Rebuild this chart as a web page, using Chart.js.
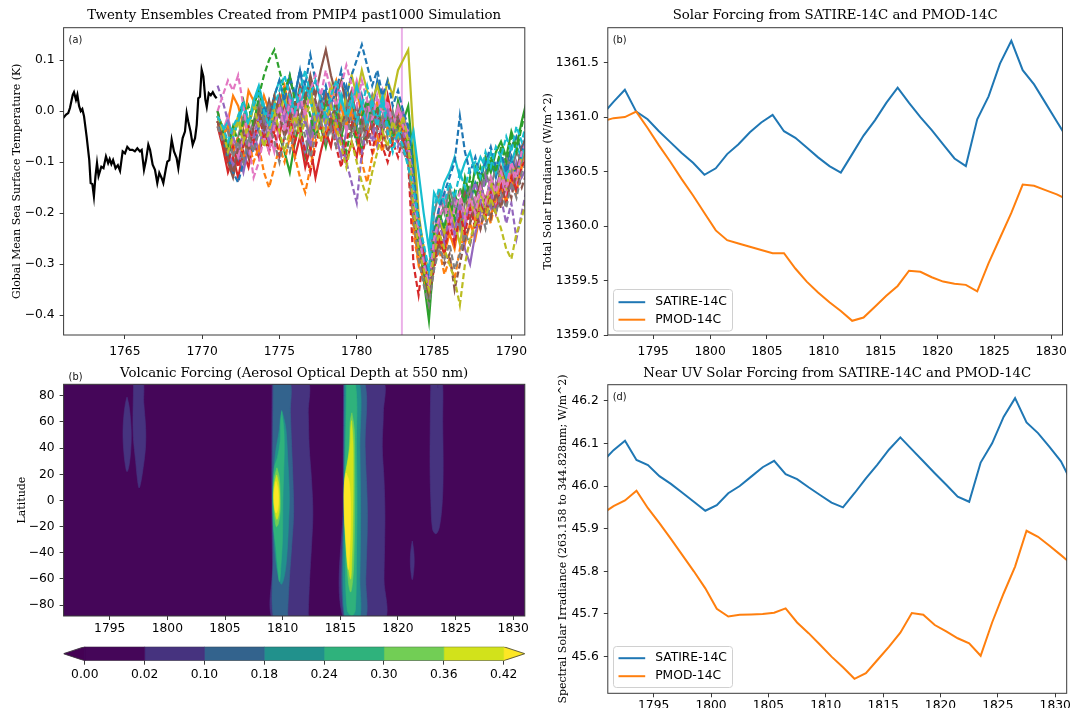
<!DOCTYPE html>
<html>
<head>
<meta charset="utf-8">
<script src="https://cdn.jsdelivr.net/npm/chart.js@4.4.1/dist/chart.umd.min.js"></script>
<style>
html,body{margin:0;padding:0;background:#fff;}
#fig{position:relative;width:1072px;height:708px;overflow:hidden;background:#fff;}
.pane{position:absolute;}
.pane canvas{display:block;}
</style>
</head>
<body>
<div id="fig">
  <div class="pane" style="left:0px;top:0px;width:536px;height:362px;"><canvas id="ca"></canvas></div>
  <div class="pane" style="left:536px;top:0px;width:536px;height:362px;"><canvas id="cb"></canvas></div>
  <div class="pane" style="left:0px;top:355px;width:536px;height:287px;"><canvas id="cc"></canvas></div>
  <div class="pane" style="left:0px;top:632px;width:536px;height:76px;"><canvas id="ccb"></canvas></div>
  <div class="pane" style="left:536px;top:355px;width:536px;height:353px;"><canvas id="cd"></canvas></div>
</div>
<script>
// ---------------- DATA ----------------
// (a) observed/reconstructed global mean SST (black)
const blackYears = [1761.00,1761.20,1761.34,1761.45,1761.63,1761.71,1761.84,1761.93,1762.04,1762.15,1762.25,1762.36,1762.53,1762.70,1762.79,1762.90,1763.00,1763.10,1763.20,1763.30,1763.48,1763.62,1763.78,1763.92,1764.02,1764.13,1764.24,1764.40,1764.55,1764.69,1764.86,1765.01,1765.16,1765.33,1765.50,1765.65,1765.81,1765.98,1766.09,1766.24,1766.37,1766.52,1766.63,1766.80,1766.95,1767.10,1767.23,1767.38,1767.49,1767.66,1767.75,1767.88,1768.03,1768.18,1768.35,1768.46,1768.61,1768.74,1768.89,1769.00,1769.10,1769.25,1769.39,1769.54,1769.65,1769.75,1769.86,1769.97,1770.08,1770.21,1770.30,1770.43,1770.56,1770.69,1770.83,1770.94];
const blackSST = [-0.014,-0.007,-0.004,0.006,0.032,0.037,0.022,0.032,0.010,0.000,0.004,-0.010,-0.050,-0.096,-0.141,-0.143,-0.167,-0.128,-0.102,-0.127,-0.109,-0.112,-0.089,-0.102,-0.094,-0.104,-0.096,-0.112,-0.106,-0.117,-0.079,-0.083,-0.070,-0.076,-0.076,-0.079,-0.073,-0.079,-0.076,-0.115,-0.096,-0.066,-0.076,-0.105,-0.115,-0.141,-0.121,-0.131,-0.141,-0.112,-0.099,-0.096,-0.056,-0.079,-0.092,-0.112,-0.079,-0.053,-0.040,-0.004,-0.020,-0.040,-0.066,-0.053,-0.027,0.025,0.028,0.081,0.068,0.022,0.008,0.035,0.031,0.037,0.029,0.025];
// (a) ensemble time axis (every 4 months)
const ensYears = [1771,1771.33,1771.67,1772,1772.33,1772.67,1773,1773.33,1773.67,1774,1774.33,1774.67,1775,1775.33,1775.67,1776,1776.33,1776.67,1777,1777.33,1777.67,1778,1778.33,1778.67,1779,1779.33,1779.67,1780,1780.33,1780.67,1781,1781.33,1781.67,1782,1782.33,1782.67,1783,1783.33,1783.67,1784,1784.33,1784.67,1785,1785.33,1785.67,1786,1786.33,1786.67,1787,1787.33,1787.67,1788,1788.33,1788.67,1789,1789.33,1789.67,1790,1790.33,1790.67,1791];
// solid members
const e00 = [-.02,-.05,-.08,-.07,-.10,-.06,-.04,-.07,-.03,-.01,.02,-.03,.00,.04,.06,.03,.08,.02,.05,-.02,.01,.04,-.01,-.04,.02,.05,.01,-.03,.03,-.02,.00,.06,.02,-.03,-.06,-.02,-.05,-.03,-.15,-.25,-.30,-.36,-.25,-.20,-.23,-.18,-.22,-.19,-.15,-.18,-.14,-.16,-.12,-.10,-.13,-.09,-.11,-.07,-.05,-.08,-.04];
const e01 = [-.01,-.04,-.02,.03,.01,-.03,.04,.02,-.02,.03,.00,-.04,.02,.05,.00,-.06,-.02,.01,-.08,-.03,.01,-.02,.03,.06,.01,-.03,.00,.04,-.01,-.05,-.02,.02,-.03,.01,-.04,.00,-.06,-.08,-.22,-.30,-.27,-.38,-.30,-.25,-.28,-.24,-.27,-.21,-.26,-.22,-.25,-.20,-.17,-.21,-.15,-.18,-.13,-.10,-.12,-.08,-.06];
const e02 = [.00,-.06,-.09,-.05,-.02,.02,-.03,.01,.04,.00,-.04,.01,-.05,-.08,-.12,-.06,-.02,-.09,-.04,.00,-.03,-.07,-.02,.02,-.05,-.01,.03,-.04,-.08,-.02,.01,-.03,.03,.00,-.05,.02,-.02,.01,-.10,-.24,-.33,-.41,-.28,-.22,-.18,-.22,-.16,-.20,-.13,-.17,-.11,-.14,-.09,-.12,-.08,-.06,-.09,-.04,-.07,-.02,.02];
const e03 = [-.03,-.07,-.12,-.09,-.13,-.08,-.11,-.06,-.09,-.04,-.07,-.02,-.05,.01,-.03,-.09,-.05,-.11,-.07,-.13,-.08,-.04,-.07,-.01,-.05,-.10,-.06,-.09,-.03,.02,-.04,.00,-.05,.03,-.02,-.06,-.03,-.07,-.20,-.27,-.31,-.35,-.29,-.24,-.27,-.21,-.25,-.19,-.23,-.17,-.22,-.18,-.21,-.16,-.19,-.14,-.18,-.12,-.15,-.10,-.07];
const e04 = [-.01,-.03,-.07,-.11,-.08,-.12,-.07,-.04,-.08,-.02,-.06,-.01,.03,-.02,-.05,.00,-.04,-.08,-.03,.02,-.02,.03,-.01,-.05,-.09,-.04,.00,-.06,-.02,.02,-.03,-.07,-.02,.01,-.04,-.02,.00,-.05,-.17,-.25,-.29,-.34,-.27,-.20,-.24,-.19,-.17,-.22,-.27,-.30,-.24,-.20,-.17,-.19,-.14,-.16,-.12,-.15,-.10,-.13,-.11];
const e05 = [-.02,-.06,-.10,-.13,-.08,-.05,-.09,-.03,.01,-.03,.02,-.02,.03,-.01,.04,.00,.05,.02,.07,.03,.08,.12,.07,.03,.06,.01,.04,-.02,.02,-.03,.01,-.02,.03,-.01,-.04,-.01,-.05,-.09,-.18,-.26,-.30,-.37,-.26,-.21,-.25,-.18,-.23,-.20,-.16,-.21,-.17,-.14,-.18,-.13,-.16,-.11,-.14,-.09,-.12,-.07,-.05];
const e06 = [.00,-.04,-.01,-.06,-.09,-.05,-.02,-.07,-.03,.01,-.04,-.08,-.03,.00,-.05,-.02,.03,-.01,-.06,-.02,.02,-.03,.01,.05,.01,-.04,.02,.06,.02,-.02,.03,-.01,.04,.00,-.03,.01,-.02,-.04,-.16,-.23,-.28,-.33,-.24,-.19,-.16,-.21,-.25,-.18,-.22,-.20,-.17,-.23,-.19,-.15,-.18,-.13,-.16,-.11,-.14,-.09,-.06];
const e07 = [-.02,-.05,-.03,-.08,-.05,-.01,-.05,-.02,.02,-.02,.01,-.03,.00,-.04,.01,-.03,.02,-.02,-.05,-.01,.03,-.01,-.04,.00,-.03,.02,-.02,.01,-.04,.00,.03,-.02,.01,-.03,.00,-.04,-.02,-.06,-.14,-.22,-.27,-.32,-.20,-.16,-.20,-.15,-.19,-.23,-.18,-.15,-.19,-.16,-.12,-.15,-.11,-.13,-.09,-.12,-.08,-.10,-.06];
const e08 = [-.01,-.03,-.07,-.04,-.01,-.05,-.02,.02,-.02,.01,-.03,.02,-.01,.03,-.02,.01,-.03,.00,.04,.00,-.03,.01,.05,.01,-.02,.03,.07,.03,.08,.04,.02,.05,.01,.06,.03,.08,.10,.12,-.05,-.20,-.27,-.34,-.26,-.21,-.24,-.19,-.22,-.26,-.20,-.17,-.21,-.16,-.19,-.14,-.17,-.12,-.15,-.10,-.13,-.09,-.07];
const e09 = [-.01,-.04,-.02,-.05,-.02,.01,-.03,.02,.05,.01,-.02,.03,.06,.02,-.01,.04,.01,.05,.02,-.02,.01,-.03,.02,-.01,.03,-.02,.01,.05,.01,-.03,.02,-.01,.03,-.02,-.05,-.02,-.06,-.08,-.04,-.12,-.20,-.27,-.16,-.18,-.14,-.12,-.09,-.13,-.10,-.08,-.12,-.09,-.11,-.08,-.12,-.09,-.13,-.10,-.07,-.09,-.05];
// dashed members
const e10 = [-.01,-.05,-.09,-.12,-.14,-.10,-.06,-.08,-.03,.01,-.02,.03,.06,.02,.07,.03,.08,.05,.11,.06,.02,.05,.01,.04,.08,.03,.07,.10,.13,.09,.05,.08,.03,.06,.01,.04,.00,-.03,-.12,-.21,-.27,-.33,-.23,-.19,-.16,-.13,-.10,-.01,-.08,-.12,-.09,-.13,-.10,-.07,-.11,-.08,-.12,-.09,-.13,-.08,-.05];
const e11 = [-.02,-.05,-.03,-.08,-.05,-.09,-.06,-.10,-.07,-.12,-.15,-.11,-.07,-.10,-.05,-.09,-.13,-.16,-.11,-.06,-.02,-.05,-.01,-.04,.01,-.03,.00,-.05,-.10,-.14,-.09,-.05,-.08,-.03,-.06,-.02,-.04,-.08,-.24,-.30,-.33,-.36,-.30,-.27,-.32,-.29,-.33,-.27,-.24,-.26,-.21,-.23,-.19,-.22,-.17,-.15,-.18,-.13,-.16,-.11,-.08];
const e12 = [.00,-.04,-.07,-.03,-.06,-.02,.01,-.03,.03,.07,.10,.12,.08,.04,.07,.02,-.02,.03,-.01,-.05,-.02,.02,-.03,.00,-.04,-.08,-.03,-.06,-.01,.02,-.02,.01,-.04,-.01,-.05,-.03,-.07,-.05,-.18,-.26,-.31,-.37,-.24,-.20,-.23,-.17,-.21,-.15,-.18,-.13,-.16,-.11,-.14,-.09,-.12,-.07,-.10,-.05,-.08,-.03,.01];
const e13 = [-.02,-.06,-.10,-.07,-.11,-.07,-.03,-.06,-.01,-.05,-.08,-.04,-.09,-.05,-.01,-.06,-.03,-.08,-.12,-.07,-.03,-.06,-.02,-.07,-.11,-.06,-.02,-.05,-.09,-.04,-.08,-.03,-.07,-.10,-.06,-.09,-.05,-.10,-.30,-.36,-.28,-.36,-.31,-.25,-.28,-.22,-.26,-.20,-.24,-.19,-.23,-.18,-.21,-.16,-.20,-.15,-.18,-.13,-.16,-.11,-.09];
const e14 = [.05,.02,-.02,-.05,-.08,-.04,-.08,-.05,-.01,-.04,.00,-.03,.02,-.02,.03,-.01,.02,-.03,-.07,-.02,.01,-.03,.02,-.02,-.06,-.10,-.14,-.18,-.08,-.03,-.06,-.01,-.04,.00,-.03,-.07,-.04,-.09,-.18,-.24,-.29,-.35,-.27,-.22,-.26,-.20,-.24,-.18,-.22,-.17,-.14,-.18,-.13,-.16,-.20,-.17,-.22,-.18,-.25,-.20,-.15];
const e15 = [-.02,-.05,-.09,-.12,-.07,-.04,-.08,-.03,.00,-.04,-.01,.03,-.01,-.05,-.02,.02,-.02,.03,.06,.02,-.01,.03,-.02,.01,-.03,.00,-.04,.01,-.02,-.06,-.03,.00,-.04,-.08,-.05,-.02,-.06,-.09,-.20,-.28,-.31,-.36,-.29,-.26,-.30,-.28,-.35,-.30,-.25,-.22,-.19,-.23,-.18,-.21,-.16,-.19,-.14,-.17,-.12,-.15,-.12];
const e16 = [.00,.03,.06,.04,.07,.01,-.06,-.13,-.10,-.05,-.08,-.03,.01,-.04,.02,-.02,.03,-.01,.04,.07,.03,.08,.04,.01,.05,.09,.05,.01,.06,.02,-.02,.03,-.01,.02,-.03,.00,-.03,-.06,-.16,-.24,-.30,-.34,-.25,-.21,-.18,-.23,-.19,-.16,-.21,-.17,-.20,-.15,-.18,-.13,-.16,-.12,-.15,-.10,-.13,-.08,-.06];
const e17 = [-.03,-.06,-.04,-.09,-.06,-.10,-.05,-.08,-.04,-.07,-.03,-.06,-.10,-.05,-.08,-.04,-.01,-.05,-.09,-.05,-.02,-.06,-.03,-.07,-.04,-.01,-.05,-.02,-.06,-.03,.00,-.04,-.01,-.05,-.02,-.05,-.08,-.10,-.21,-.29,-.34,-.38,-.31,-.27,-.29,-.26,-.31,-.28,-.24,-.26,-.22,-.19,-.23,-.18,-.20,-.16,-.19,-.14,-.17,-.12,-.10];
const e18 = [-.01,-.04,-.08,-.05,-.02,-.06,-.03,.01,-.03,-.07,-.04,.00,-.04,-.08,-.04,-.01,-.05,-.02,.02,-.02,-.06,-.02,.01,-.03,-.07,-.11,-.06,-.10,-.14,-.17,-.12,-.08,-.04,-.07,-.02,-.05,-.01,-.06,-.19,-.27,-.31,-.35,-.28,-.24,-.27,-.30,-.33,-.38,-.30,-.25,-.22,-.19,-.21,-.17,-.20,-.23,-.27,-.29,-.24,-.21,-.17];
const e19 = [-.01,-.03,-.06,-.03,-.01,.02,-.02,.01,.04,.00,-.03,.01,.04,.07,.03,.00,.04,.08,.03,.06,.02,-.01,.03,.06,.02,-.01,.03,-.02,.01,.05,.01,-.03,.02,-.04,-.08,-.04,-.07,-.11,-.15,-.22,-.26,-.31,-.19,-.15,-.18,-.14,-.17,-.12,-.15,-.11,-.10,-.13,-.08,-.11,-.07,-.09,-.05,-.08,-.03,-.06,-.02];
const eruptionYear = 1782.92;
const aXTicks = [1765,1770,1775,1780,1785,1790];
const aYTicks = [-0.4,-0.3,-0.2,-0.1,0.0,0.1];

// (b),(d) solar forcing, annual values at mid-year
const solarYears = [1790.5,1791.5,1792.5,1793.5,1794.5,1795.5,1796.5,1797.5,1798.5,1799.5,1800.5,1801.5,1802.5,1803.5,1804.5,1805.5,1806.5,1807.5,1808.5,1809.5,1810.5,1811.5,1812.5,1813.5,1814.5,1815.5,1816.5,1817.5,1818.5,1819.5,1820.5,1821.5,1822.5,1823.5,1824.5,1825.5,1826.5,1827.5,1828.5,1829.5,1830.5,1831.5];
const tsiSatire = [1361.02,1361.14,1361.25,1361.05,1360.98,1360.87,1360.77,1360.67,1360.58,1360.47,1360.53,1360.66,1360.75,1360.86,1360.95,1361.02,1360.87,1360.81,1360.72,1360.63,1360.55,1360.49,1360.66,1360.83,1360.97,1361.13,1361.27,1361.13,1361.00,1360.88,1360.75,1360.62,1360.55,1360.98,1361.19,1361.49,1361.70,1361.43,1361.30,1361.13,1360.96,1360.79];
const tsiPmod = [1360.96,1360.99,1361.00,1361.05,1360.90,1360.74,1360.59,1360.43,1360.28,1360.12,1359.96,1359.87,1359.84,1359.81,1359.78,1359.75,1359.75,1359.61,1359.49,1359.39,1359.30,1359.22,1359.13,1359.16,1359.26,1359.36,1359.45,1359.59,1359.58,1359.53,1359.49,1359.47,1359.46,1359.40,1359.66,1359.89,1360.12,1360.38,1360.37,1360.33,1360.29,1360.24];
const uvSatire = [46.056,46.084,46.106,46.061,46.049,46.023,46.005,45.984,45.963,45.942,45.955,45.983,46.000,46.022,46.044,46.059,46.028,46.016,45.997,45.979,45.961,45.950,45.983,46.018,46.050,46.085,46.114,46.086,46.058,46.030,46.003,45.975,45.963,46.055,46.100,46.162,46.206,46.149,46.124,46.092,46.058,46.005];
const uvPmod = [45.935,45.953,45.966,45.989,45.948,45.913,45.876,45.838,45.800,45.760,45.712,45.694,45.698,45.699,45.700,45.703,45.713,45.680,45.655,45.628,45.600,45.575,45.548,45.561,45.592,45.623,45.656,45.702,45.698,45.674,45.659,45.643,45.631,45.602,45.680,45.748,45.811,45.895,45.881,45.860,45.838,45.815];
const solarXTicks = [1795,1800,1805,1810,1815,1820,1825,1830];
const tsiYTicks = [1359.0,1359.5,1360.0,1360.5,1361.0,1361.5];
const uvYTicks = [45.6,45.7,45.8,45.9,46.0,46.1,46.2];

// (c) volcanic aerosol optical depth: filled contour regions [year, latitude]
const aodLevels = [0.00,0.02,0.10,0.18,0.24,0.30,0.36,0.42];
const aodDomain = [[1790,-95],[1832,-95],[1832,95],[1790,95]];
const aod02_1796 = [[1796.50,79],[1796.68,72],[1796.82,60],[1796.87,50],[1796.82,38],[1796.68,27],[1796.50,22],[1796.34,28],[1796.20,40],[1796.15,52],[1796.22,64],[1796.36,74]];
const aod02_1797 = [[1797.07,92],[1797.85,92],[1797.95,75],[1798.12,55],[1798.10,40],[1797.90,25],[1797.70,14],[1797.55,9.5],[1797.42,15],[1797.25,30],[1797.05,48],[1797.02,65],[1797.05,80]];
const aod02_1809 = [[1809.08,92],[1812.10,92],[1812.22,67],[1812.30,41],[1812.50,16],[1812.62,-10],[1812.50,-35],[1812.34,-60],[1812.22,-86],[1812.20,-92],[1809.20,-92],[1809.12,-50],[1809.05,0],[1809.06,50]];
const aod02_1815 = [[1815.28,92],[1818.64,92],[1818.73,67],[1818.64,41],[1818.79,16],[1818.87,-10],[1818.84,-35],[1818.79,-60],[1818.79,-92],[1815.32,-92],[1815.25,0]];
const aod02_1821 = [[1821.24,-31],[1821.36,-38],[1821.41,-46],[1821.36,-54],[1821.24,-60.5],[1821.12,-54],[1821.07,-46],[1821.12,-38]];
const aod02_1823 = [[1822.85,92],[1823.35,92],[1823.45,86],[1823.55,92],[1823.85,92],[1823.88,60],[1823.92,25],[1823.85,0],[1823.60,-20],[1823.30,-25.5],[1823.00,-22],[1822.85,0],[1822.78,25],[1822.80,60]];
const aod10_1809 = [[1809.19,92],[1810.58,92],[1810.67,67],[1810.78,41],[1810.89,16],[1810.95,-10],[1810.78,-35],[1810.58,-60],[1810.43,-86],[1810.43,-92],[1809.25,-92],[1809.18,-40],[1809.12,0],[1809.15,45]];
const aod10_1815 = [[1815.33,92],[1817.06,92],[1817.15,41],[1817.35,-10],[1817.21,-60],[1817.12,-92],[1815.38,-92],[1815.30,0]];
const aod18_1809 = [[1809.91,69],[1810.10,63],[1810.29,54],[1810.43,33.5],[1810.58,3],[1810.49,-22],[1810.38,-40],[1810.20,-55],[1809.90,-64],[1809.60,-57],[1809.34,-40],[1809.23,-22],[1809.17,3],[1809.34,33.5],[1809.71,54],[1809.80,63]];
const aod18_1815 = [[1815.39,92],[1816.62,92],[1816.70,41],[1816.76,-10],[1816.70,-60],[1816.62,-92],[1815.42,-92],[1815.35,0]];
const aod24_1809 = [[1809.92,68],[1810.10,55],[1810.14,40],[1810.10,25],[1810.02,0],[1809.98,-30],[1809.86,-48],[1809.72,-62],[1809.55,-50],[1809.40,-35],[1809.20,-20],[1809.15,3],[1809.28,25],[1809.55,33],[1809.78,45],[1809.82,60]];
const aod24_1815 = [[1815.55,90],[1816.30,90],[1816.40,41],[1816.45,0],[1816.40,-41],[1816.30,-84],[1816.00,-88],[1815.60,-84],[1815.42,-40],[1815.38,0],[1815.45,41]];
const aod30_1809 = [[1809.50,25],[1809.70,18],[1809.78,5],[1809.78,-8],[1809.62,-18],[1809.45,-20],[1809.30,-12],[1809.20,3],[1809.28,17]];
const aod30_1815 = [[1816.00,67],[1816.20,55],[1816.25,30],[1816.25,0],[1816.20,-35],[1816.10,-58],[1815.90,-70],[1815.70,-62],[1815.50,-35],[1815.35,-5],[1815.40,18],[1815.65,30],[1815.80,45],[1815.85,60]];
const aod36_1809 = [[1809.48,19.5],[1809.65,13],[1809.72,2],[1809.68,-9],[1809.50,-14.5],[1809.33,-8],[1809.22,3],[1809.30,13]];
const aod36_1815 = [[1815.98,61],[1816.10,45],[1816.12,20],[1816.10,-10],[1816.02,-40],[1815.90,-60],[1815.72,-52],[1815.55,-35],[1815.38,-10],[1815.38,15],[1815.60,28],[1815.82,40],[1815.90,55]];
const aod42_1809 = [[1809.42,14.5],[1809.58,9],[1809.64,1],[1809.58,-6],[1809.43,-9.6],[1809.30,-5],[1809.25,2],[1809.30,9]];
const aod42_1815 = [[1815.50,21],[1815.75,15],[1815.88,0],[1815.88,-22],[1815.80,-40],[1815.70,-52.7],[1815.58,-45],[1815.45,-28],[1815.33,-5],[1815.35,12]];
const latTicks = [-80,-60,-40,-20,0,20,40,60,80];

// ---------------- STYLE ----------------
const tab10 = ['#1f77b4','#ff7f0e','#2ca02c','#d62728','#9467bd','#8c564b','#e377c2','#7f7f7f','#bcbd22','#17becf'];
// viridis sampled at the level mid-points; under / over colours for the extensions
const levelColors = ['#450659','#46337f','#33638d','#21918c','#2fb27c','#72ce55','#d2e21b','#fde725'];
const underColor = '#440154';
const SERIF = '"DejaVu Serif", serif';
const SANS = '"DejaVu Sans", sans-serif';
const SPINE = '#3a3a3a';
Chart.defaults.font.family = SANS;
Chart.defaults.font.size = 12.3;
Chart.defaults.color = '#000';
Chart.defaults.animation = false;
Chart.defaults.plugins.legend.display = false;
Chart.defaults.plugins.tooltip.enabled = false;
Chart.defaults.elements.point.radius = 0;
Chart.defaults.elements.line.tension = 0;

// ---------------- PLUGINS ----------------
const frame = {
  id: 'frame',
  afterDraw(chart, args, o) {
    if (o && o.off) return;
    const {ctx, chartArea: a} = chart;
    ctx.save(); ctx.strokeStyle = SPINE; ctx.lineWidth = 1;
    ctx.strokeRect(a.left, a.top, a.right - a.left, a.bottom - a.top);
    ctx.restore();
  }
};
const panelLabel = {
  id: 'panelLabel',
  afterDraw(chart, args, o) {
    if (!o || !o.text) return;
    const {ctx, chartArea: a} = chart;
    ctx.save(); ctx.font = '9.8px ' + SANS; ctx.fillStyle = '#111'; ctx.textBaseline = 'middle';
    ctx.fillText(o.text, a.left + o.dx, a.top + o.dy); ctx.restore();
  }
};
const insideLegend = {
  id: 'insideLegend',
  afterDatasetsDraw(chart, args, o) {
    if (!o || !o.show) return;
    const {ctx, chartArea: a} = chart;
    const x = Math.round(a.left + o.dx) + 0.5, w = o.w, h = o.h;
    const y = Math.round(a.bottom - o.dy - h) + 0.5, r = 3;
    ctx.save();
    ctx.beginPath();
    ctx.moveTo(x + r, y); ctx.lineTo(x + w - r, y); ctx.arcTo(x + w, y, x + w, y + r, r);
    ctx.lineTo(x + w, y + h - r); ctx.arcTo(x + w, y + h, x + w - r, y + h, r);
    ctx.lineTo(x + r, y + h); ctx.arcTo(x, y + h, x, y + h - r, r);
    ctx.lineTo(x, y + r); ctx.arcTo(x, y, x + r, y, r); ctx.closePath();
    ctx.fillStyle = 'rgba(255,255,255,0.85)'; ctx.fill();
    ctx.strokeStyle = '#d0d0d0'; ctx.lineWidth = 1; ctx.stroke();
    ctx.font = '12.3px ' + SANS; ctx.textBaseline = 'middle'; ctx.fillStyle = '#000';
    chart.data.datasets.forEach((ds, i) => {
      const yy = y + o.row0 + i * o.gap;
      ctx.beginPath(); ctx.moveTo(x + o.l0, yy); ctx.lineTo(x + o.l1, yy);
      ctx.strokeStyle = ds.borderColor; ctx.lineWidth = ds.borderWidth; ctx.stroke();
      ctx.fillText(ds.label, x + o.tx, yy);
    });
    ctx.restore();
  }
};

// ---------------- HELPERS ----------------
const fixW = w => s => { s.width = w; };
const fixH = h => s => { s.height = h; };
const useTicks = arr => s => { s.ticks = arr.map(v => ({value: v})); };
const fmt = d => v => (v < -1e-9 ? '\u2212' : '') + Math.abs(v).toFixed(d);
function xAxis(min, max, ticks, h, cb, pad) {
  return { type: 'linear', position: 'bottom', min, max, afterBuildTicks: useTicks(ticks), afterFit: fixH(h),
    grid: {display: true, drawOnChartArea: false, drawTicks: true, tickLength: 4, color: SPINE},
    border: {display: false},
    ticks: {autoSkip: false, maxRotation: 0, padding: pad === undefined ? 1 : pad, callback: cb || (v => String(v))} };
}
function yAxis(min, max, ticks, w, cb, title, tpad, tsize) {
  return { type: 'linear', position: 'left', min, max, afterBuildTicks: useTicks(ticks), afterFit: fixW(w),
    grid: {display: true, drawOnChartArea: false, drawTicks: true, tickLength: 4, color: SPINE},
    border: {display: false},
    ticks: {autoSkip: false, padding: 5, callback: cb},
    title: {display: true, text: title, color: '#000', padding: {top: tpad, bottom: 0},
      font: {family: SERIF, size: tsize || 11, lineHeight: '14px'}} };
}
function titleOpt(text, top, bottom) {
  return {display: true, fullSize: false, text, color: '#000', padding: {top, bottom},
    font: {family: SERIF, size: 13.3, weight: 'normal', lineHeight: '18px'}};
}
const xy = (xs, ys) => ys.map((v, i) => ({x: xs[i], y: v}));
const poly = pts => pts.concat([pts[0]]).map(p => ({x: p[0], y: p[1]}));

// ---------------- (a) ----------------
const ensAll = [e00,e01,e02,e03,e04,e05,e06,e07,e08,e09,e10,e11,e12,e13,e14,e15,e16,e17,e18,e19];
const dsA = [];
dsA.push({label: 'obs', data: xy(blackYears, blackSST), borderColor: '#000', borderWidth: 2.2, order: 300});
dsA.push({label: 'eruption', data: [{x: eruptionYear, y: -1}, {x: eruptionYear, y: 1}], borderColor: 'rgba(218,112,214,0.55)', borderWidth: 2, order: 250});
ensAll.forEach((s, k) => dsA.push({label: 'm' + k, data: xy(ensYears, s), borderColor: tab10[k % 10],
  borderWidth: 2.2, borderDash: k >= 10 ? [6, 3] : [], order: 100 - k}));
new Chart(document.getElementById('ca'), {
  type: 'line',
  data: {datasets: dsA},
  options: {
    responsive: true, maintainAspectRatio: false,
    layout: {autoPadding: false, padding: {left: 0, right: 11.2, top: 0, bottom: 0}},
    scales: {
      x: xAxis(1761.04, 1790.87, aXTicks, 27, null, 5),
      y: yAxis(-0.4386, 0.1633, aYTicks, 63.6, fmt(1), 'Global Mean Sea Surface Temperature (K)', 10, 10.9)
    },
    plugins: {title: titleOpt('Twenty Ensembles Created from PMIP4 past1000 Simulation', 6.7, 3),
      panelLabel: {text: '(a)', dx: 5, dy: 12.7}}
  },
  plugins: [frame, panelLabel]
});

// ---------------- (b) ----------------
new Chart(document.getElementById('cb'), {
  type: 'line',
  data: {datasets: [
    {label: 'SATIRE-14C', data: xy(solarYears, tsiSatire), borderColor: tab10[0], borderWidth: 2, order: 2},
    {label: 'PMOD-14C', data: xy(solarYears, tsiPmod), borderColor: tab10[1], borderWidth: 2, order: 1}
  ]},
  options: {
    responsive: true, maintainAspectRatio: false,
    layout: {autoPadding: false, padding: {left: 0, right: 4.4, top: 0, bottom: 0}},
    scales: {
      x: xAxis(1791, 1831, solarXTicks, 27, null, 5),
      y: yAxis(1359.0, 1361.82, tsiYTicks, 71.8, fmt(1), 'Total Solar Irradiance (W/m^2)', 5, 11)
    },
    plugins: {title: titleOpt('Solar Forcing from SATIRE-14C and PMOD-14C', 6.7, 3),
      panelLabel: {text: '(b)', dx: 5, dy: 12.7},
      insideLegend: {show: true, dx: 5.5, dy: 5, w: 119, h: 41.5, row0: 12.7, gap: 17.5, l0: 5, l1: 31.7, tx: 41.7}}
  },
  plugins: [frame, panelLabel, insideLegend]
});

// ---------------- (c) ----------------
const contourSets = [
  [0, aodDomain],
  [1, aod02_1796], [1, aod02_1797], [1, aod02_1809], [1, aod02_1815], [1, aod02_1821], [1, aod02_1823],
  [2, aod10_1809], [2, aod10_1815],
  [3, aod18_1809], [3, aod18_1815],
  [4, aod24_1809], [4, aod24_1815],
  [5, aod30_1809], [5, aod30_1815],
  [6, aod36_1809], [6, aod36_1815],
  [7, aod42_1809], [7, aod42_1815]
];
const dsC = contourSets.map((c, k) => ({
  label: 'AOD>' + aodLevels[c[0]], data: poly(c[1]), fill: 'shape',
  backgroundColor: levelColors[c[0]], borderColor: levelColors[c[0]], borderWidth: 0.6,
  tension: c[0] === 0 ? 0 : 0.35, order: 500 - k
}));
new Chart(document.getElementById('cc'), {
  type: 'line',
  data: {datasets: dsC},
  options: {
    responsive: true, maintainAspectRatio: false,
    layout: {autoPadding: false, padding: {left: 0, right: 11.2, top: 0, bottom: 0}},
    scales: {
      x: xAxis(1791, 1831, solarXTicks, 26),
      y: yAxis(-88.3, 88.8, latTicks, 63.6, fmt(0), 'Latitude', 15, 11)
    },
    plugins: {title: titleOpt('Volcanic Forcing (Aerosol Optical Depth at 550 nm)', 9.3, 2),
      panelLabel: {text: '(b)', dx: 5, dy: -6.5}}
  },
  plugins: [frame, panelLabel]
});

// ---------------- colorbar ----------------
const cbIdx = aodLevels.map((v, i) => i);
const dsCB = [];
cbIdx.slice(0, -1).forEach(i => dsCB.push({data: poly([[i,0],[i+1,0],[i+1,1],[i,1]]), fill: 'shape',
  backgroundColor: levelColors[i], borderColor: levelColors[i], borderWidth: 0.5}));
dsCB.push({data: poly([[0,0],[-0.354,0.5],[0,1]]), fill: 'shape', backgroundColor: underColor, borderColor: underColor, borderWidth: 0.5});
dsCB.push({data: poly([[7,0],[7.354,0.5],[7,1]]), fill: 'shape', backgroundColor: levelColors[7], borderColor: levelColors[7], borderWidth: 0.5});
dsCB.push({data: poly([[0,0],[7,0],[7.354,0.5],[7,1],[0,1],[-0.354,0.5]]), fill: false, borderColor: SPINE, borderWidth: 0.8, order: -1});
new Chart(document.getElementById('ccb'), {
  type: 'line',
  data: {datasets: dsCB},
  options: {
    responsive: true, maintainAspectRatio: false,
    layout: {autoPadding: false, padding: {left: 63.6, right: 11.2, top: 14.7, bottom: 0}},
    scales: {
      x: xAxis(-0.354, 7.354, cbIdx, 47.3, (v, i) => aodLevels[i].toFixed(2), 3),
      y: {type: 'linear', min: 0, max: 1, display: false}
    },
    plugins: {frame: {off: true}}
  }
});

// ---------------- (d) ----------------
new Chart(document.getElementById('cd'), {
  type: 'line',
  data: {datasets: [
    {label: 'SATIRE-14C', data: xy(solarYears, uvSatire), borderColor: tab10[0], borderWidth: 2, order: 2},
    {label: 'PMOD-14C', data: xy(solarYears, uvPmod), borderColor: tab10[1], borderWidth: 2, order: 1}
  ]},
  options: {
    responsive: true, maintainAspectRatio: false,
    layout: {autoPadding: false, padding: {left: 0, right: 4.4, top: 0, bottom: 0}},
    scales: {
      x: xAxis(1791, 1831, solarXTicks, 14.7),
      y: yAxis(45.514, 46.2375, uvYTicks, 71.8, fmt(1), 'Spectral Solar Irradiance (263.158 to 344.828nm; W/m^2)', 20.4, 11)
    },
    plugins: {title: titleOpt('Near UV Solar Forcing from SATIRE-14C and PMOD-14C', 9.3, 2.4),
      panelLabel: {text: '(d)', dx: 5, dy: 12.3},
      insideLegend: {show: true, dx: 5.5, dy: 6, w: 119, h: 41, row0: 11.7, gap: 18, l0: 5, l1: 31.7, tx: 41.7}}
  },
  plugins: [frame, panelLabel, insideLegend]
});
</script>
</body>
</html>
